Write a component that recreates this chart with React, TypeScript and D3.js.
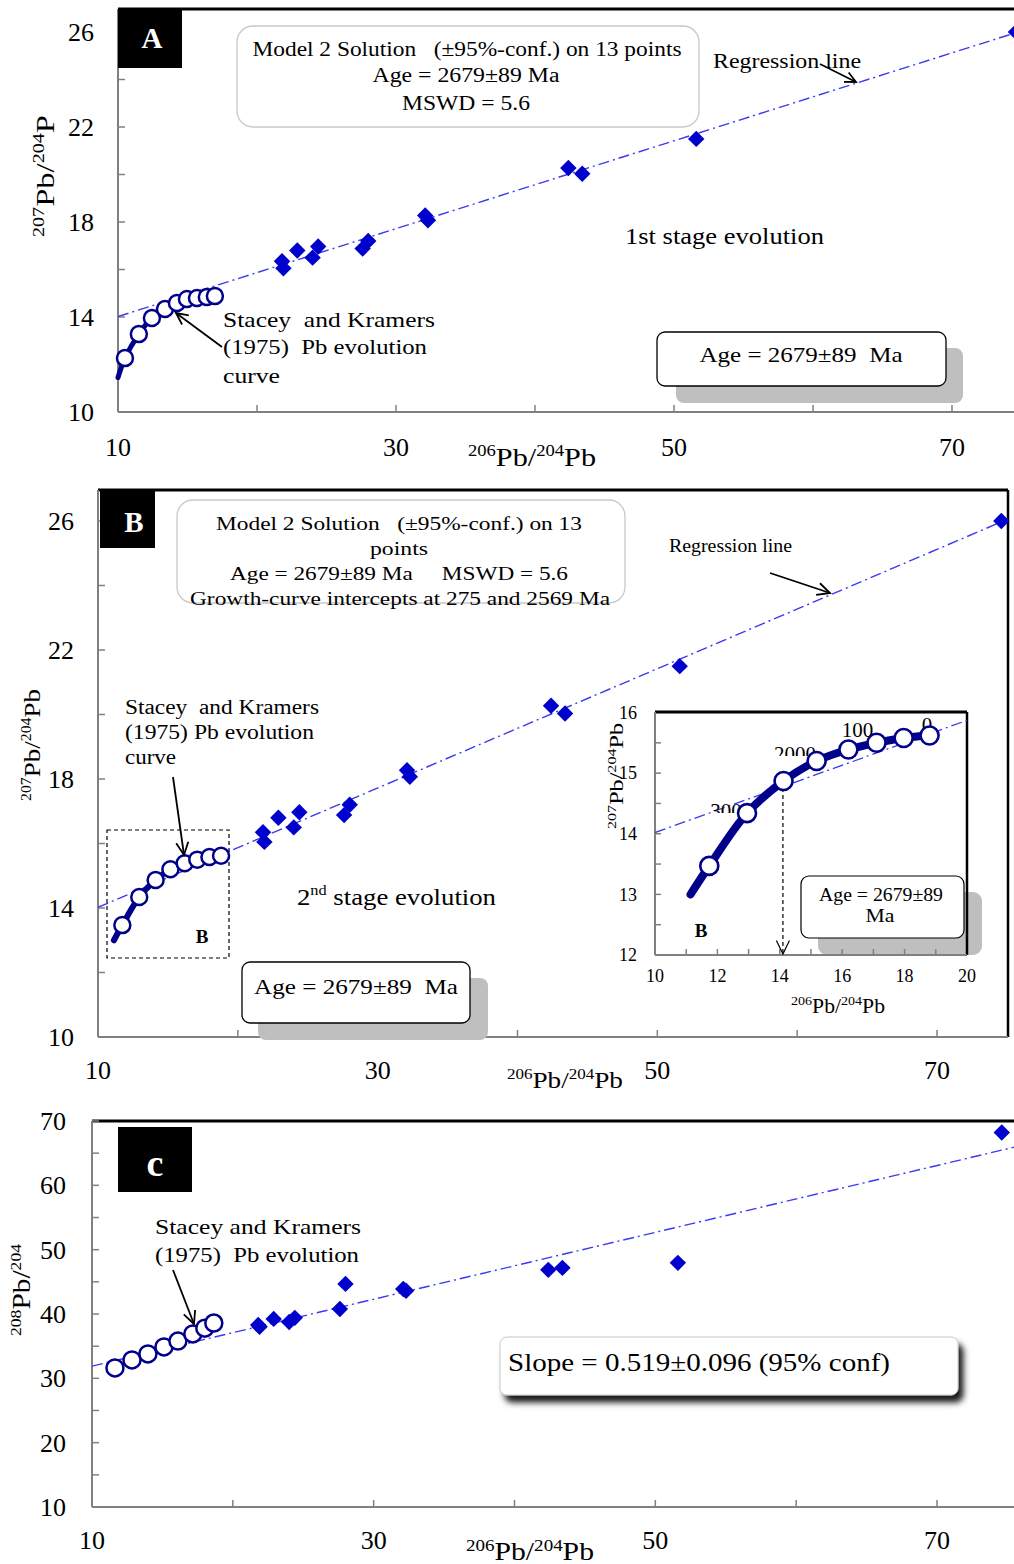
import React from 'react';
import * as d3 from 'd3';

// ---------- data ----------
const pb206 = [21.8, 21.9, 22.9, 24.4, 24.0, 27.6, 28.0, 32.1, 32.3, 42.4, 43.4, 51.6, 74.6];
const pb207 = [16.35, 16.05, 16.8, 16.97, 16.5, 16.88, 17.2, 18.27, 18.07, 20.27, 20.03, 21.5, 26.0];
const pb208 = [38.3, 38.0, 39.24, 39.4, 38.77, 40.79, 44.68, 43.9, 43.6, 46.86, 47.17, 47.95, 68.2];

// Stacey & Kramers curve as drawn in panel A (first point = curve start, no marker)
const skA206 = [10.0, 10.5, 11.5, 12.44, 13.38, 14.24, 14.96, 15.68, 16.39, 16.97];
const skA207 = [11.45, 12.27, 13.28, 13.96, 14.34, 14.59, 14.76, 14.8, 14.84, 14.88];
// Stacey & Kramers curve as drawn in panel B and inset
const skB206 = [11.14, 11.74, 12.95, 14.12, 15.18, 16.2, 17.1, 17.97, 18.8];
const skB207 = [13.0, 13.47, 14.34, 14.87, 15.2, 15.39, 15.5, 15.58, 15.62];
// Panel C (208 vs 206)
const skC206 = [11.63, 12.84, 13.97, 15.11, 16.1, 17.16, 18.01, 18.65];
const skC208 = [31.62, 32.86, 33.8, 34.88, 35.8, 36.9, 37.8, 38.6];

// regression lines (end points)
const reg206 = [10, 76];
const reg207 = [14.02, 26.23];
const regC206 = [10, 76];
const regC208 = [31.9, 66.2];

// inset age labels
const ageLabels = ['3000', '2000', '100', '0'];
const ageLblX = [12.44, 14.49, 16.49, 18.72];
const ageLblY = [14.26, 15.2, 15.6, 15.68];
const arrowAge206 = 14.1;

const yTickLabels207 = [10, 14, 18, 22, 26];
const xTickLabels = [10, 30, 50, 70];
const yTickLabels208 = [10, 20, 30, 40, 50, 60, 70];
const insetXLabels = [10, 12, 14, 16, 18, 20];
const insetYLabels = [12, 13, 14, 15, 16];

// ---------- styles ----------
const FONT = "'Liberation Serif', 'Times New Roman', serif";
const REG = '#3a3af0';
const DIA = '#0000cc';
const NAVY = '#00008b';
const AXIS = '#808080';

const diamondPath = d3.symbol(d3.symbolSquare, 135)();

function Diamonds({ xs, ys, x, y }: any) {
  return (
    <g>
      {xs.map((v: number, i: number) => (
        <path key={i} d={diamondPath as string} fill={DIA}
          transform={`translate(${x(v)},${y(ys[i])}) rotate(45)`} />
      ))}
    </g>
  );
}

function T({ x, y, w, fs, anchor = 'start', children, ...rest }: any) {
  return (
    <text x={x} y={y} fontSize={fs} textAnchor={anchor} textLength={w} lengthAdjust="spacingAndGlyphs"
      style={{ whiteSpace: 'pre' }} fontFamily={FONT} {...rest}>{children}</text>
  );
}

function Arrow({ x1, y1, x2, y2, len = 13, w = 1.8, dash }: any) {
  const a = Math.atan2(y2 - y1, x2 - x1);
  const h1 = [x2 - len * Math.cos(a - 0.45), y2 - len * Math.sin(a - 0.45)];
  const h2 = [x2 - len * Math.cos(a + 0.45), y2 - len * Math.sin(a + 0.45)];
  return (
    <g stroke="#000" strokeWidth={w} fill="none">
      <line x1={x1} y1={y1} x2={x2} y2={y2} strokeDasharray={dash} />
      <polyline points={`${h1[0]},${h1[1]} ${x2},${y2} ${h2[0]},${h2[1]}`} />
    </g>
  );
}

function SupLabel({ parts, fs, sfs, w, ...rest }: any) {
  let prevSup = false;
  return (
    <text fontFamily={FONT} fill="#000" textLength={w} lengthAdjust="spacingAndGlyphs" {...rest}>
      {parts.map((p: any, i: number) => {
        const [t, sup] = p;
        let dy = 0;
        if (sup && !prevSup) dy = -fs * 0.38;
        if (!sup && prevSup) dy = fs * 0.38;
        prevSup = sup;
        return (
          <tspan key={i} fontSize={sup ? sfs : fs} dy={dy}>{t}</tspan>
        );
      })}
    </text>
  );
}

function Axes({ x, y, left, right, top, bottom, xTicks, yTicks, xLabels, yLabels, fs, xLabOff, yLabOff, tick = 7, border = true, rightBorder }: any) {
  return (
    <g>
      {border && <line x1={left} x2={right} y1={top} y2={top} stroke="#000" strokeWidth={3} />}
      {rightBorder && <line x1={right} x2={right} y1={top} y2={bottom} stroke="#000" strokeWidth={2.5} />}
      <line x1={left} x2={left} y1={top} y2={bottom} stroke={AXIS} strokeWidth={2} />
      <line x1={left} x2={right} y1={bottom} y2={bottom} stroke={AXIS} strokeWidth={2} />
      {yTicks.map((t: number) => (
        <line key={'yt' + t} x1={left} x2={left + tick} y1={y(t)} y2={y(t)} stroke={AXIS} strokeWidth={1.5} />
      ))}
      {xTicks.map((t: number) => (
        <line key={'xt' + t} x1={x(t)} x2={x(t)} y1={bottom} y2={bottom - tick} stroke={AXIS} strokeWidth={1.5} />
      ))}
      {yLabels.map((t: number) => (
        <text key={'yl' + t} x={left - yLabOff} y={y(t)} dy="0.35em" textAnchor="end" fontFamily={FONT} fontSize={fs}>{t}</text>
      ))}
      {xLabels.map((t: number) => (
        <text key={'xl' + t} x={x(t)} y={bottom + xLabOff} dy="0.35em" textAnchor="middle" fontFamily={FONT} fontSize={fs}>{t}</text>
      ))}
    </g>
  );
}

function SK({ xs, ys, x, y, r, lw, sw, skipFirst = true, curve = true }: any) {
  const pts = xs.map((v: number, i: number) => [x(v), y(ys[i])] as [number, number]);
  const path = d3.line().curve(d3.curveCatmullRom.alpha(0.5))(pts) as string;
  const circ = skipFirst ? pts.slice(1) : pts;
  return (
    <g>
      {curve && <path d={path} fill="none" stroke={NAVY} strokeWidth={lw} strokeLinecap="round" />}
      {circ.map((p: [number, number], i: number) => (
        <circle key={i} cx={p[0]} cy={p[1]} r={r} fill="#fff" stroke={NAVY} strokeWidth={sw} />
      ))}
    </g>
  );
}

function RegLine({ xs, ys, x, y, clip, w = 1.4 }: any) {
  const d = d3.line()(xs.map((v: number, i: number) => [x(v), y(ys[i])] as [number, number])) as string;
  return <path d={d} fill="none" stroke={REG} strokeWidth={w} strokeDasharray="11,4,2,4" clipPath={clip} />;
}

export default function App() {
  const xA = d3.scaleLinear().domain([10, 70]).range([118, 952]);
  const yA = d3.scaleLinear().domain([10, 26]).range([412, 32]);
  const xB = d3.scaleLinear().domain([10, 70]).range([98, 937]);
  const yB = d3.scaleLinear().domain([10, 26]).range([1037, 521]);
  const xI = d3.scaleLinear().domain([10, 20]).range([655, 967]);
  const yI = d3.scaleLinear().domain([12, 16]).range([955, 712.5]);
  const xC = d3.scaleLinear().domain([10, 70]).range([92, 937]);
  const yC = d3.scaleLinear().domain([10, 70]).range([1507, 1121]);

  const pbParts = (a: string, b: string, tail = 'Pb') => [[a, true], ['Pb/', false], [b, true], [tail, false]];

  return (
    <svg width={1014} height={1564} style={{ position: 'absolute', left: 0, top: 0, background: '#fff' }}
      fontFamily={FONT}>
      <defs>
        <clipPath id="clipA"><rect x={118} y={9} width={900} height={403} /></clipPath>
        <clipPath id="clipB"><rect x={98} y={490} width={910} height={547} /></clipPath>
        <clipPath id="clipI"><rect x={655} y={712} width={312} height={243} /></clipPath>
        <clipPath id="clipC"><rect x={92} y={1121} width={925} height={386} /></clipPath>
        <filter id="shadowC" x="-10%" y="-30%" width="130%" height="180%">
          <feDropShadow dx={5} dy={7} stdDeviation={3} floodColor="#000" floodOpacity={0.9} />
        </filter>
      </defs>
      <rect x={0} y={0} width={1014} height={1564} fill="#fff" />

      {/* ================= PANEL A ================= */}
      <Axes x={xA} y={yA} left={118} right={1014} top={9} bottom={412}
        xTicks={d3.range(20, 80, 10)} yTicks={d3.range(12, 27, 2)}
        xLabels={xTickLabels} yLabels={yTickLabels207} fs={26} xLabOff={35} yLabOff={24} />
      <rect x={118} y={9} width={64} height={59} fill="#000" />
      <text x={152} y={48} textAnchor="middle" fill="#fff" fontSize={29} fontWeight="bold">A</text>

      <rect x={237} y={26} width={462} height={101} rx={16} fill="#fff" stroke="#c8c8c8" strokeWidth={1.3} />
      <T x={467} y={56} w={429} fs={20} anchor="middle">Model 2 Solution   (±95%-conf.) on 13 points</T>
      <T x={466} y={82} w={187} fs={20} anchor="middle">Age = 2679±89 Ma</T>
      <T x={466} y={110} w={128} fs={20} anchor="middle">MSWD = 5.6</T>

      <RegLine xs={reg206} ys={reg207} x={xA} y={yA} clip="url(#clipA)" />
      <T x={713} y={68} w={148} fs={21}>Regression line</T>
      <Arrow x1={820} y1={64} x2={856} y2={82} len={12} />

      <SK xs={skA206} ys={skA207} x={xA} y={yA} r={8} lw={5} sw={2.5} />
      <Diamonds xs={pb206} ys={pb207} x={xA} y={yA} />

      <T x={625} y={244} w={199} fs={23}>1st stage evolution</T>
      <T x={223} y={327} w={212} fs={21}>Stacey  and Kramers</T>
      <T x={223} y={354} w={204} fs={21}>(1975)  Pb evolution</T>
      <T x={223} y={383} w={57} fs={21}>curve</T>
      <Arrow x1={222} y1={347} x2={176} y2={313} len={13} />

      <rect x={676} y={348} width={287} height={55} rx={8} fill="#bfbfbf" />
      <rect x={657} y={332} width={289} height={54} rx={8} fill="#fff" stroke="#000" strokeWidth={1.3} />
      <T x={801} y={362} w={203} fs={22} anchor="middle">Age = 2679±89  Ma</T>

      <SupLabel parts={pbParts('207', '204', 'P')} fs={26} sfs={16} w={122} textAnchor="middle"
        transform="translate(54,176) rotate(-90)" />
      <SupLabel parts={pbParts('206', '204')} fs={26} sfs={16} w={128} textAnchor="middle" x={532} y={466} />

      {/* ================= PANEL B ================= */}
      <Axes x={xB} y={yB} left={98} right={1008} top={490} bottom={1037}
        xTicks={d3.range(20, 80, 10)} yTicks={d3.range(12, 27, 2)}
        xLabels={xTickLabels} yLabels={yTickLabels207} fs={26} xLabOff={33} yLabOff={24} rightBorder />
      <rect x={100} y={490} width={55} height={58} fill="#000" />
      <text x={134} y={532} textAnchor="middle" fill="#fff" fontSize={29} fontWeight="bold">B</text>

      <rect x={177} y={500} width={448} height={103} rx={16} fill="#fff" stroke="#c8c8c8" strokeWidth={1.3} />
      <T x={399} y={530} w={366} fs={19} anchor="middle">Model 2 Solution   (±95%-conf.) on 13</T>
      <T x={399} y={555} w={58} fs={19} anchor="middle">points</T>
      <T x={399} y={580} w={338} fs={19} anchor="middle">Age = 2679±89 Ma     MSWD = 5.6</T>
      <T x={400} y={605} w={420} fs={19} anchor="middle">Growth-curve intercepts at 275 and 2569 Ma</T>

      <RegLine xs={reg206} ys={reg207} x={xB} y={yB} clip="url(#clipB)" />
      <T x={669} y={552} w={123} fs={18}>Regression line</T>
      <Arrow x1={770} y1={573} x2={830} y2={593} len={14} />

      <rect x={107} y={830} width={122} height={128} fill="none" stroke="#000" strokeWidth={1.2} strokeDasharray="4,3" />
      <SK xs={skB206} ys={skB207} x={xB} y={yB} r={8} lw={6} sw={2.5} />
      <Diamonds xs={pb206} ys={pb207} x={xB} y={yB} />
      <text x={202} y={943} textAnchor="middle" fontSize={19} fontWeight="bold">B</text>

      <T x={125} y={714} w={194} fs={20}>Stacey  and Kramers</T>
      <T x={125} y={739} w={189} fs={20}>(1975) Pb evolution</T>
      <T x={125} y={764} w={51} fs={20}>curve</T>
      <Arrow x1={173} y1={777} x2={184} y2={855} len={14} />

      <text x={297} y={905} fontSize={23} textLength={199} lengthAdjust="spacingAndGlyphs" style={{ whiteSpace: 'pre' }}>
        <tspan>2</tspan><tspan fontSize={14} dy={-10}>nd</tspan><tspan dy={10}> stage evolution</tspan>
      </text>

      <rect x={258} y={978} width={230} height={62} rx={8} fill="#bfbfbf" />
      <rect x={242} y={962} width={228} height={61} rx={8} fill="#fff" stroke="#000" strokeWidth={1.3} />
      <T x={356} y={994} w={204} fs={22} anchor="middle">Age = 2679±89  Ma</T>

      <SupLabel parts={pbParts('207', '204')} fs={24} sfs={14} w={112} textAnchor="middle"
        transform="translate(40,745) rotate(-90)" />
      <SupLabel parts={pbParts('206', '204')} fs={24} sfs={15} w={116} textAnchor="middle" x={565} y={1088} />

      {/* ---------- Inset ---------- */}
      <rect x={818} y={892} width={164} height={63} rx={9} fill="#bfbfbf" />
      <Axes x={xI} y={yI} left={655} right={967} top={712} bottom={955}
        xTicks={d3.range(11, 20, 1)} yTicks={d3.range(12.5, 16, 0.5)}
        xLabels={insetXLabels} yLabels={insetYLabels} fs={18} xLabOff={21} yLabOff={18} tick={6} rightBorder />
      <RegLine xs={reg206} ys={reg207} x={xI} y={yI} clip="url(#clipI)" w={1.3} />
      {ageLabels.map((t, i) => {
        const cx = xI(ageLblX[i]);
        const cy = yI(ageLblY[i]);
        const clipped = i < 2;
        return (
          <g key={t}>
            {clipped && (
              <clipPath id={'lbl' + i}><rect x={cx - 40} y={cy - 17} width={80} height={12} /></clipPath>
            )}
            <text x={cx} y={cy} textAnchor="middle" fontSize={21} clipPath={clipped ? `url(#lbl${i})` : undefined}>{t}</text>
          </g>
        );
      })}
      <Arrow x1={xI(arrowAge206)} y1={yI(skB207[3])} x2={xI(arrowAge206)} y2={954} len={15} w={1.2} dash="4,3" />
      <SK xs={skB206} ys={skB207} x={xI} y={yI} r={9} lw={8} sw={2.6} />
      <text x={701} y={937} textAnchor="middle" fontSize={19} fontWeight="bold">B</text>
      <rect x={801} y={876} width={163} height={62} rx={8} fill="#fff" stroke="#000" strokeWidth={1.2} />
      <T x={881} y={901} w={124} fs={19} anchor="middle">Age = 2679±89</T>
      <T x={880} y={922} w={29} fs={19} anchor="middle">Ma</T>
      <SupLabel parts={pbParts('207', '204')} fs={18} sfs={12} w={106} textAnchor="middle"
        transform="translate(623,776) rotate(-90)" />
      <SupLabel parts={pbParts('206', '204')} fs={20} sfs={13} w={94} textAnchor="middle" x={838} y={1013} />

      {/* ================= PANEL C ================= */}
      <Axes x={xC} y={yC} left={92} right={1014} top={1121} bottom={1507}
        xTicks={d3.range(20, 80, 10)} yTicks={d3.range(15, 71, 5)}
        xLabels={xTickLabels} yLabels={yTickLabels208} fs={26} xLabOff={33} yLabOff={26} />
      <rect x={118} y={1127} width={74} height={65} fill="#000" />
      <text x={155} y={1176} textAnchor="middle" fill="#fff" fontSize={38} fontWeight="bold">c</text>

      <RegLine xs={regC206} ys={regC208} x={xC} y={yC} clip="url(#clipC)" />
      <SK xs={skC206} ys={skC208} x={xC} y={yC} r={8.5} lw={3} sw={2.5} skipFirst={false} curve={false} />
      <Diamonds xs={pb206} ys={pb208} x={xC} y={yC} />

      <T x={155} y={1234} w={206} fs={21}>Stacey and Kramers</T>
      <T x={155} y={1262} w={204} fs={21}>(1975)  Pb evolution</T>
      <Arrow x1={173} y1={1270} x2={194} y2={1324} len={14} />

      <rect x={500} y={1337} width={458} height={58} rx={7} fill="#fff" stroke="#c8c8c8" strokeWidth={1} filter="url(#shadowC)" />
      <T x={508} y={1371} w={382} fs={26}>Slope = 0.519±0.096 (95% conf)</T>

      <SupLabel parts={pbParts('208', '204', '')} fs={25} sfs={15} w={92} textAnchor="middle"
        transform="translate(30,1290) rotate(-90)" />
      <SupLabel parts={pbParts('206', '204')} fs={25} sfs={16} w={128} textAnchor="middle" x={530} y={1560} />
    </svg>
  );
}
